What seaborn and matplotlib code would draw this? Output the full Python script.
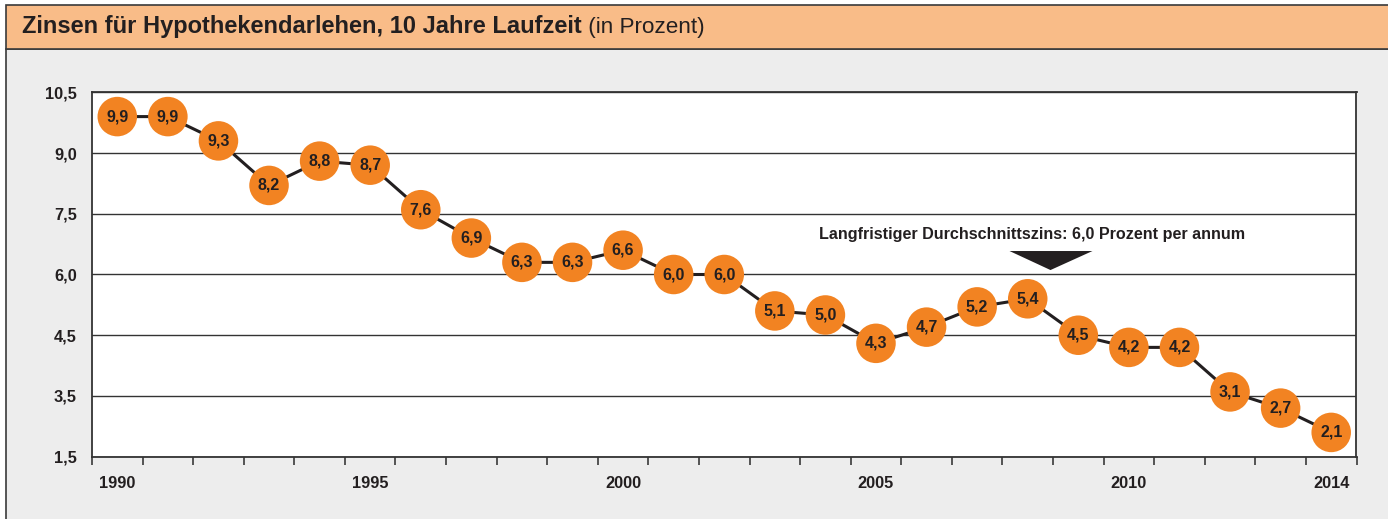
import matplotlib
matplotlib.use("Agg")
import matplotlib.pyplot as plt
from matplotlib.patches import Rectangle, Polygon
from matplotlib.ticker import FixedLocator
import seaborn as sns
import pandas as pd

# ---- data ----
years = list(range(1990, 2015))
rates = [9.9, 9.9, 9.3, 8.2, 8.8, 8.7, 7.6, 6.9, 6.3, 6.3, 6.6, 6.0, 6.0,
         5.1, 5.0, 4.3, 4.7, 5.2, 5.4, 4.5, 4.2, 4.2, 3.1, 2.7, 2.1]
rate_labels = [f"{v:.1f}".replace(".", ",") for v in rates]
xtick_years = [1990, 1995, 2000, 2005, 2010, 2014]
ytick_values = [1.5, 3.0, 4.5, 6.0, 7.5, 9.0, 10.5]
ytick_labels = ["1,5", "3,5", "4,5", "6,0", "7,5", "9,0", "10,5"]
title_bold = "Zinsen für Hypothekendarlehen, 10 Jahre Laufzeit"
title_normal = " (in Prozent)"
note_text = "Langfristiger Durchschnittszins: 6,0 Prozent per annum"
note_year = 2008.45

df = pd.DataFrame({"Jahr": years, "Zins": rates})

W, H = 1388, 519
DPI = 100
sns.set_theme(style="white")
FONT = ["Liberation Sans", "DejaVu Sans"]
plt.rcParams["font.family"] = FONT
TXT = "#231F20"
ORANGE = "#F28322"

fig = plt.figure(figsize=(W / DPI, H / DPI), dpi=DPI)
fig.patch.set_facecolor("white")

def fx(px):
    return px / W

def fy(py):
    return 1 - py / H

# gray panel
fig.patches.append(Rectangle((fx(6), fy(530)), fx(1400 - 6), fy(49) - fy(530),
                             transform=fig.transFigure, facecolor="#EDEDED",
                             edgecolor="#3A3A3A", lw=1.2, zorder=-2))
# title bar
fig.patches.append(Rectangle((fx(6), fy(49)), fx(1400 - 6), fy(5) - fy(49),
                             transform=fig.transFigure, facecolor="#F9BC88",
                             edgecolor="#3A3A3A", lw=1.2, zorder=-1))

ax_l, ax_r, ax_t, ax_b = 92, 1356.5, 92.3, 456.7
ax = fig.add_axes([fx(ax_l), fy(ax_b), fx(ax_r - ax_l), fy(ax_t) - fy(ax_b)])
ax.set_zorder(2)
ax.set_facecolor("white")

sns.lineplot(data=df, x="Jahr", y="Zins", ax=ax, color=TXT, lw=2.2, zorder=3)
sns.scatterplot(data=df, x="Jahr", y="Zins", ax=ax, color=ORANGE, s=810,
                edgecolor="none", linewidth=0, zorder=4)
for x, y, lab in zip(years, rates, rate_labels):
    ax.text(x, y, lab, ha="center", va="center", fontsize=11.5,
            fontweight="bold", color=TXT, zorder=5)

ax.set_xlim(years[0] - 0.5, years[-1] + 0.5)
ax.set_ylim(ytick_values[0], ytick_values[-1])
ax.set_xlabel("")
ax.set_ylabel("")

ax.set_yticks(ytick_values)
ax.set_yticklabels(ytick_labels)
ax.yaxis.grid(True, color="#333333", lw=1.0)
ax.xaxis.grid(False)
ax.set_axisbelow(True)

ax.set_xticks(xtick_years)
ax.set_xticklabels([str(y) for y in xtick_years])
ax.xaxis.set_minor_locator(FixedLocator([y - 0.5 for y in years] + [years[-1] + 0.5]))
ax.tick_params(axis="x", which="major", length=0, pad=14, labelsize=11.8,
               labelcolor=TXT)
ax.tick_params(axis="x", which="minor", length=6, width=1.2, color="#3A3A3A",
               direction="out", bottom=True)
ax.tick_params(axis="y", length=0, pad=11, labelsize=11.8, labelcolor=TXT)
for lab in ax.get_xticklabels() + ax.get_yticklabels():
    lab.set_fontweight("bold")

for sp in ax.spines.values():
    sp.set_visible(True)
    sp.set_color("#333333")
    sp.set_linewidth(1.3)

# annotation
ax.text(note_year - 0.36, 7.0, note_text, ha="center", va="center",
        fontsize=11.6, fontweight="bold", color=TXT, zorder=6)
ax.add_patch(Polygon([(note_year - 0.81, 6.58), (note_year + 0.83, 6.58),
                      (note_year, 6.11)], closed=True, facecolor=TXT,
                     edgecolor="none", zorder=6))

# title
t1 = fig.text(fx(22), fy(27), title_bold, ha="left", va="center",
              fontsize=17, fontweight="bold", color=TXT)
fig.canvas.draw()
bb = t1.get_window_extent()
fig.text(bb.x1 / W, fy(27), title_normal, ha="left", va="center",
         fontsize=16.2, color=TXT)

fig.savefig("out.png", dpi=DPI, facecolor=fig.get_facecolor())
